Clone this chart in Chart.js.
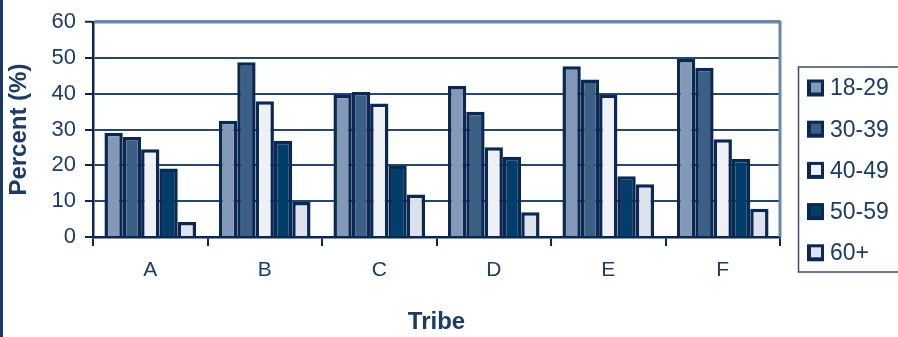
<!DOCTYPE html>
<html>
<head>
<meta charset="utf-8">
<script src="https://cdn.jsdelivr.net/npm/chart.js@4/dist/chart.umd.min.js"></script>
<style>
  html, body { margin: 0; padding: 0; background: #ffffff; }
  #wrap { width: 898px; height: 337px; position: relative; }
</style>
</head>
<body>
<div id="wrap"><canvas id="c" width="898" height="337"></canvas></div>
<script>
// Tribes on the x axis
const tribes = ['A', 'B', 'C', 'D', 'E', 'F'];

// Share of each age group within a tribe (%)
const age18to29 = [29.1, 32.5, 39.7, 42.2, 47.7, 49.7];
const age30to39 = [27.9, 48.8, 40.5, 35.0, 44.0, 47.3];
const age40to49 = [24.5, 37.9, 37.3, 25.1, 39.7, 27.3];
const age50to59 = [19.1, 26.9, 20.0, 22.4, 17.0, 21.8];
const age60plus = [4.2, 9.8, 11.9, 6.9, 14.7, 7.9];

const seriesLabels = ['18-29', '30-39', '40-49', '50-59', '60+'];
const yTicks = [0, 10, 20, 30, 40, 50, 60];

const fills = ['#8499b7', '#3d5f86', '#eff1f7', '#033d69', '#dde2ec'];
const edge = '#0a2852';
const ink = '#1c3c66';
const frameBlue = '#6b86ab';
const gridNavy = '#28476f';

const seriesValues = [age18to29, age30to39, age40to49, age50to59, age60plus];

const datasets = seriesLabels.map((label, i) => ({
  label,
  data: seriesValues[i],
  backgroundColor: fills[i],
  borderColor: edge,
  borderWidth: 3.5,
  categoryPercentage: 0.8,
  barPercentage: 1.0
}));

// Frame pieces: page edge rule and the right side of the plot frame
const framePlugin = {
  id: 'frame',
  beforeDraw(chart) {
    const ctx = chart.ctx;
    ctx.save();
    ctx.fillStyle = '#ffffff';
    ctx.fillRect(0, 0, chart.width, chart.height);
    ctx.fillStyle = '#1c3a66';
    ctx.fillRect(0, 0, 3, chart.height);
    ctx.restore();
  },
  afterDatasetsDraw(chart) {
    const { ctx, chartArea } = chart;
    ctx.save();
    ctx.strokeStyle = frameBlue;
    ctx.lineWidth = 3;
    ctx.beginPath();
    ctx.moveTo(chartArea.right, chartArea.top - 1.5);
    ctx.lineTo(chartArea.right, chartArea.bottom);
    ctx.stroke();
    ctx.restore();
  }
};

// Boxed legend on the right, built from the datasets
const boxLegend = {
  id: 'boxLegend',
  afterDraw(chart) {
    const ctx = chart.ctx;
    const x0 = 798.5, y0 = 67, w = 120, h = 205;
    ctx.save();
    ctx.strokeStyle = '#3b4e6b';
    ctx.lineWidth = 1.5;
    ctx.strokeRect(x0, y0, w, h);
    ctx.font = '23px "Liberation Sans", Arial, sans-serif';
    ctx.textBaseline = 'middle';
    ctx.textAlign = 'left';
    chart.data.datasets.forEach((ds, i) => {
      const cy = 88 + i * 41.2;
      const kx = 807, ks = 17;
      ctx.fillStyle = edge;
      ctx.fillRect(kx, cy - ks / 2, ks, ks);
      ctx.fillStyle = ds.backgroundColor;
      ctx.fillRect(kx + 4, cy - ks / 2 + 3, ks - 7, ks - 7);
      ctx.fillStyle = ink;
      ctx.fillText(ds.label, 830, cy + 1);
    });
    ctx.restore();
  }
};

new Chart(document.getElementById('c'), {
  type: 'bar',
  data: { labels: tribes, datasets },
  options: {
    responsive: false,
    animation: false,
    devicePixelRatio: 1,
    layout: { padding: { top: 17, right: 118, left: 0, bottom: 0 } },
    plugins: {
      legend: { display: false },
      tooltip: { enabled: false }
    },
    scales: {
      x: {
        offset: true,
        grid: {
          offset: true,
          drawOnChartArea: false,
          drawTicks: true,
          tickLength: 9,
          color: edge,
          lineWidth: 2
        },
        border: { display: true, color: edge, width: 2.5 },
        ticks: {
          color: ink,
          padding: 12,
          font: { family: '"Liberation Sans", Arial, sans-serif', size: 21 }
        },
        title: {
          display: true,
          text: 'Tribe',
          color: ink,
          padding: { top: 0, bottom: 0 },
          font: { family: '"Liberation Sans", Arial, sans-serif', size: 24, weight: 'bold' }
        },
        afterFit(scale) { scale.height = 100; }
      },
      y: {
        min: 0,
        max: 60,
        afterBuildTicks(scale) { scale.ticks = yTicks.map(v => ({ value: v })); },
        grid: {
          drawTicks: true,
          tickLength: 8,
          color: ctx => (ctx.tick && ctx.tick.value === 60) ? frameBlue : gridNavy,
          lineWidth: ctx => (ctx.tick && ctx.tick.value === 60) ? 3.5 : 2,
          tickColor: edge,
          tickWidth: 2
        },
        border: { display: true, color: edge, width: 2.5 },
        ticks: {
          color: ink,
          padding: 9,
          font: { family: '"Liberation Sans", Arial, sans-serif', size: 22 }
        },
        title: {
          display: true,
          text: 'Percent (%)',
          color: ink,
          padding: { top: 5, bottom: 0 },
          font: { family: '"Liberation Sans", Arial, sans-serif', size: 24, weight: 'bold' }
        },
        afterFit(scale) { scale.width = 93; }
      }
    }
  },
  plugins: [framePlugin, boxLegend]
});
</script>
</body>
</html>
